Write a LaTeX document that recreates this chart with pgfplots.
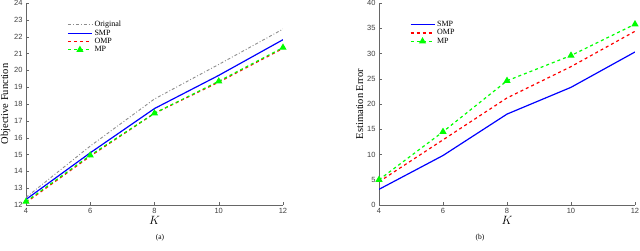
\documentclass[border=0pt]{standalone}
\usepackage{fontspec}
\setmainfont{Liberation Serif}
\setsansfont{Liberation Sans}
\usepackage{pgfplots}
\pgfplotsset{compat=1.18}
\definecolor{mgray}{RGB}{140,140,140}
\definecolor{mblue}{RGB}{0,0,255}
\definecolor{mred}{RGB}{255,0,0}
\definecolor{mgreen}{RGB}{0,255,0}
\pgfplotsset{legend image code/.code={\draw[mark repeat=2,mark phase=2,#1] plot coordinates {(0pt,0pt) (12pt,0pt) (24pt,0pt)};}}
\pgfplotsset{
  mystyle/.style={
    scale only axis,
    axis x line*=bottom, axis y line*=left,
    axis line style={draw=black!60},
    tick style={draw=black!60},
    tick align=inside,
    major tick length=2.5pt,
    xmin=4, xmax=12, xtick={4,6,8,10,12},
    ticklabel style={font=\sffamily\fontsize{7.5}{8}\selectfont, text=black!75},
    /pgf/number format/assume math mode=true,
    xlabel={$K$},
    xlabel style={font=\fontsize{12}{12}\selectfont, yshift=4pt},
    ylabel style={font=\fontsize{10.5}{12}\selectfont, yshift=-3pt},
    legend style={draw=none, fill=none, font=\fontsize{8}{9}\selectfont, row sep=-2.5pt, anchor=north west, inner xsep=0pt},
    legend cell align=left,
  }
}
\begin{document}
\begin{tikzpicture}
\path[use as bounding box] (0pt,0pt) rectangle (640pt,251pt);
\begin{axis}[mystyle, at={(26pt,46pt)}, anchor=south west, width=257pt, height=202pt,
  ymin=12, ymax=24, ytick={12,13,...,24},
  ylabel={Objective Function},
  legend style={at={(0.16,0.93)}}]
\addplot[mgray, line width=0.9pt, dash dot] coordinates {(4,12.45) (6,15.5) (8,18.3) (10,20.35) (12,22.45)};
\addlegendentry{Original}
\addplot[mblue, line width=1.2pt] coordinates {(4,12.33) (6,15.1) (8,17.73) (10,19.7) (12,21.82)};
\addlegendentry{SMP}
\addplot[mred, line width=1.2pt, dashed] coordinates {(4,12.15) (6,14.9) (8,17.45) (10,19.3) (12,21.3)};
\addlegendentry{OMP}
\addplot[mgreen, line width=1.2pt, dashed, mark=triangle*, mark size=3pt, mark options={solid}] coordinates {(4,12.2) (6,14.95) (8,17.45) (10,19.35) (12,21.35)};
\addlegendentry{MP}
\end{axis}
\node[font=\fontsize{7.5}{8}\selectfont] at (160pt,13pt) {(a)};
\begin{axis}[mystyle, at={(379pt,46pt)}, anchor=south west, width=256pt, height=202pt,
  ymin=0, ymax=40, ytick={0,5,...,40},
  ylabel={Estimation Error},
  legend style={at={(0.12,0.93)}}]
\addplot[mblue, line width=1.2pt] coordinates {(4,3.1) (6,9.8) (8,18.0) (10,23.3) (12,30.3)};
\addlegendentry{SMP}
\addplot[mred, line width=1.2pt, dashed] coordinates {(4,4.6) (6,12.9) (8,21.2) (10,27.4) (12,34.4)};
\addlegendentry{OMP}
\addplot[mgreen, line width=1.2pt, dashed, mark=triangle*, mark size=3pt, mark options={solid}] coordinates {(4,5.0) (6,14.5) (8,24.6) (10,29.6) (12,35.8)};
\addlegendentry{MP}
\end{axis}
\node[font=\fontsize{7.5}{8}\selectfont] at (480pt,13pt) {(b)};
\end{tikzpicture}
\end{document}
